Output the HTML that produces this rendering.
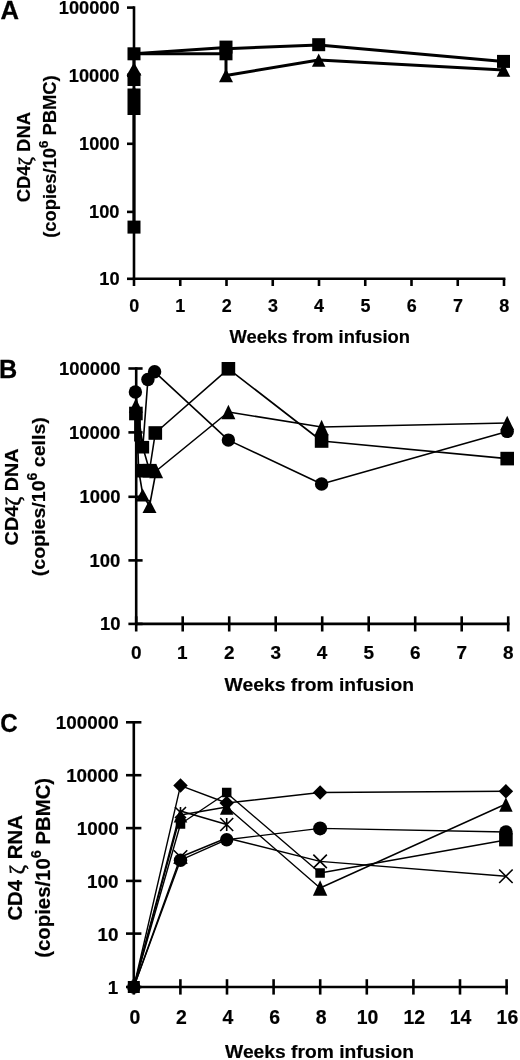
<!DOCTYPE html>
<html><head><meta charset="utf-8"><style>
html,body{margin:0;padding:0;background:#fff;}
svg{display:block;filter:grayscale(100%);}
text{font-family:"Liberation Sans", sans-serif;font-weight:bold;fill:#000;stroke:#000;stroke-width:1px;}
</style></head><body>
<svg width="520" height="1060" viewBox="0 0 520 1060">
<rect width="520" height="1060" fill="#fff"/>
<g stroke="#000" fill="#000" stroke-linecap="butt">
<line x1="134.00" y1="6.30" x2="134.00" y2="280.10" stroke-width="2.6"/>
<line x1="132.70" y1="278.80" x2="505.40" y2="278.80" stroke-width="2.6"/>
<line x1="127.00" y1="7.60" x2="134.00" y2="7.60" stroke-width="2.6"/>
<line x1="127.00" y1="75.80" x2="134.00" y2="75.80" stroke-width="2.6"/>
<line x1="127.00" y1="143.80" x2="134.00" y2="143.80" stroke-width="2.6"/>
<line x1="127.00" y1="211.90" x2="134.00" y2="211.90" stroke-width="2.6"/>
<line x1="127.00" y1="278.80" x2="134.00" y2="278.80" stroke-width="2.6"/>
<line x1="134.00" y1="278.80" x2="134.00" y2="286.00" stroke-width="2.6"/>
<line x1="180.25" y1="278.80" x2="180.25" y2="286.00" stroke-width="2.6"/>
<line x1="226.50" y1="278.80" x2="226.50" y2="286.00" stroke-width="2.6"/>
<line x1="272.75" y1="278.80" x2="272.75" y2="286.00" stroke-width="2.6"/>
<line x1="319.00" y1="278.80" x2="319.00" y2="286.00" stroke-width="2.6"/>
<line x1="365.25" y1="278.80" x2="365.25" y2="286.00" stroke-width="2.6"/>
<line x1="411.50" y1="278.80" x2="411.50" y2="286.00" stroke-width="2.6"/>
<line x1="457.75" y1="278.80" x2="457.75" y2="286.00" stroke-width="2.6"/>
<line x1="504.00" y1="278.80" x2="504.00" y2="286.00" stroke-width="2.6"/>
<polyline points="134.00,53.80 226.00,47.60 226.00,48.80 318.70,44.90 503.50,61.40" fill="none" stroke-width="3.0" stroke-linejoin="round"/>
<polyline points="134.00,53.80 226.00,53.80 226.00,75.50 318.70,60.10 503.50,70.00" fill="none" stroke-width="3.0" stroke-linejoin="round"/>
<line x1="134.00" y1="53.80" x2="134.00" y2="227.10" stroke-width="3.0"/>
<rect x="127.50" y="47.30" width="13" height="13" stroke="none"/>
<rect x="219.50" y="40.60" width="13" height="13" stroke="none"/>
<rect x="219.50" y="47.30" width="13" height="13" stroke="none"/>
<rect x="312.20" y="38.20" width="13" height="13" stroke="none"/>
<rect x="497.00" y="54.90" width="13" height="13" stroke="none"/>
<rect x="127.50" y="73.10" width="13" height="13" stroke="none"/>
<rect x="127.50" y="88.50" width="13" height="26.5" stroke="none"/>
<rect x="127.50" y="220.60" width="13" height="13" stroke="none"/>
<polygon points="134.00,62.50 141.50,75.50 126.50,75.50" stroke="none"/>
<polygon points="226.00,68.75 233.00,82.25 219.00,82.25" stroke="none"/>
<polygon points="318.70,53.40 325.45,66.80 311.95,66.80" stroke="none"/>
<polygon points="503.50,63.30 510.25,76.70 496.75,76.70" stroke="none"/>
<rect x="127.00" y="86.2" width="5.3" height="1.6" fill="#fff" stroke="none"/>
<rect x="135.50" y="86.2" width="5.3" height="1.6" fill="#fff" stroke="none"/>
<line x1="136.20" y1="367.20" x2="136.20" y2="625.20" stroke-width="2.6"/>
<line x1="134.90" y1="623.90" x2="509.50" y2="623.90" stroke-width="2.6"/>
<line x1="128.40" y1="368.50" x2="142.60" y2="368.50" stroke-width="2.6"/>
<line x1="128.40" y1="432.40" x2="142.60" y2="432.40" stroke-width="2.6"/>
<line x1="128.40" y1="496.80" x2="142.60" y2="496.80" stroke-width="2.6"/>
<line x1="128.40" y1="560.40" x2="142.60" y2="560.40" stroke-width="2.6"/>
<line x1="128.40" y1="623.90" x2="142.60" y2="623.90" stroke-width="2.6"/>
<line x1="136.20" y1="616.30" x2="136.20" y2="631.50" stroke-width="2.6"/>
<line x1="182.70" y1="616.30" x2="182.70" y2="631.50" stroke-width="2.6"/>
<line x1="229.20" y1="616.30" x2="229.20" y2="631.50" stroke-width="2.6"/>
<line x1="275.70" y1="616.30" x2="275.70" y2="631.50" stroke-width="2.6"/>
<line x1="322.20" y1="616.30" x2="322.20" y2="631.50" stroke-width="2.6"/>
<line x1="368.70" y1="616.30" x2="368.70" y2="631.50" stroke-width="2.6"/>
<line x1="415.20" y1="616.30" x2="415.20" y2="631.50" stroke-width="2.6"/>
<line x1="461.70" y1="616.30" x2="461.70" y2="631.50" stroke-width="2.6"/>
<line x1="508.20" y1="616.30" x2="508.20" y2="631.50" stroke-width="2.6"/>
<polyline points="135.40,392.00 142.84,447.00 147.90,379.50 154.60,371.80 228.40,440.10 321.60,484.00 507.20,431.40" fill="none" stroke-width="1.6" stroke-linejoin="round"/>
<polyline points="136.20,413.50 142.84,447.20 149.50,470.50 155.30,433.00 228.40,368.80 321.60,441.00 507.20,458.60" fill="none" stroke-width="1.6" stroke-linejoin="round"/>
<polyline points="136.20,405.50 138.70,470.50 142.84,495.00 149.50,506.00 156.10,471.00 228.40,412.00 321.60,427.00 507.20,423.00" fill="none" stroke-width="1.6" stroke-linejoin="round"/>
<circle cx="135.40" cy="392.00" r="6.7" stroke="none"/>
<circle cx="147.90" cy="379.50" r="6.7" stroke="none"/>
<circle cx="154.60" cy="371.80" r="6.7" stroke="none"/>
<circle cx="228.40" cy="440.10" r="6.7" stroke="none"/>
<circle cx="321.60" cy="484.00" r="6.7" stroke="none"/>
<circle cx="507.20" cy="431.40" r="6.7" stroke="none"/>
<rect x="129.10" y="406.70" width="13.6" height="13.6" stroke="none"/>
<rect x="136.54" y="440.90" width="12.6" height="12.6" stroke="none"/>
<rect x="148.50" y="426.20" width="13.6" height="13.6" stroke="none"/>
<rect x="136.04" y="463.90" width="13.6" height="13.6" stroke="none"/>
<rect x="142.70" y="463.90" width="13.6" height="13.6" stroke="none"/>
<rect x="221.60" y="362.00" width="13.6" height="13.6" stroke="none"/>
<rect x="134.1" y="419.5" width="6.8" height="22" stroke="none"/>
<rect x="314.80" y="434.20" width="13.6" height="13.6" stroke="none"/>
<rect x="500.40" y="451.80" width="13.6" height="13.6" stroke="none"/>
<polygon points="135.90,398.25 142.90,412.75 128.90,412.75" stroke="none"/>
<polygon points="156.10,463.75 163.10,478.25 149.10,478.25" stroke="none"/>
<polygon points="142.64,488.50 149.64,501.50 135.64,501.50" stroke="none"/>
<polygon points="149.50,499.55 156.50,513.05 142.50,513.05" stroke="none"/>
<polygon points="228.40,404.75 235.40,419.25 221.40,419.25" stroke="none"/>
<polygon points="321.60,419.75 328.60,435.25 314.60,435.25" stroke="none"/>
<polygon points="507.20,415.75 514.20,430.25 500.20,430.25" stroke="none"/>
<line x1="133.80" y1="721.00" x2="133.80" y2="988.30" stroke-width="2.6"/>
<line x1="132.50" y1="987.00" x2="507.90" y2="987.00" stroke-width="2.6"/>
<line x1="126.00" y1="722.30" x2="141.40" y2="722.30" stroke-width="2.6"/>
<line x1="126.00" y1="775.20" x2="141.40" y2="775.20" stroke-width="2.6"/>
<line x1="126.00" y1="828.10" x2="141.40" y2="828.10" stroke-width="2.6"/>
<line x1="126.00" y1="880.90" x2="141.40" y2="880.90" stroke-width="2.6"/>
<line x1="126.00" y1="933.60" x2="141.40" y2="933.60" stroke-width="2.6"/>
<line x1="126.00" y1="987.00" x2="141.40" y2="987.00" stroke-width="2.6"/>
<line x1="133.80" y1="979.20" x2="133.80" y2="994.60" stroke-width="2.6"/>
<line x1="180.40" y1="979.20" x2="180.40" y2="994.60" stroke-width="2.6"/>
<line x1="227.00" y1="979.20" x2="227.00" y2="994.60" stroke-width="2.6"/>
<line x1="273.60" y1="979.20" x2="273.60" y2="994.60" stroke-width="2.6"/>
<line x1="320.20" y1="979.20" x2="320.20" y2="994.60" stroke-width="2.6"/>
<line x1="366.80" y1="979.20" x2="366.80" y2="994.60" stroke-width="2.6"/>
<line x1="413.40" y1="979.20" x2="413.40" y2="994.60" stroke-width="2.6"/>
<line x1="460.00" y1="979.20" x2="460.00" y2="994.60" stroke-width="2.6"/>
<line x1="506.60" y1="979.20" x2="506.60" y2="994.60" stroke-width="2.6"/>
<polyline points="133.80,987.00 180.50,785.60 226.70,803.00 320.10,792.50 505.90,791.30" fill="none" stroke-width="1.4" stroke-linejoin="round"/>
<polyline points="133.80,987.00 180.50,824.00 226.70,793.00 320.10,873.00 505.90,840.00" fill="none" stroke-width="1.4" stroke-linejoin="round"/>
<polyline points="133.80,987.00 180.50,815.00 226.70,807.00 320.10,888.00 505.90,804.00" fill="none" stroke-width="1.4" stroke-linejoin="round"/>
<polyline points="133.80,987.00 180.50,860.20 226.70,839.70 320.10,828.40 505.90,832.00" fill="none" stroke-width="1.4" stroke-linejoin="round"/>
<polyline points="133.80,987.00 180.50,857.00 226.70,838.00 320.10,861.40 505.90,876.20" fill="none" stroke-width="1.4" stroke-linejoin="round"/>
<polyline points="133.80,987.00 180.50,811.00 226.70,824.50" fill="none" stroke-width="1.4" stroke-linejoin="round"/>
<circle cx="133.80" cy="987.00" r="6.7" stroke="none"/>
<rect x="127.80" y="981.00" width="12" height="12" stroke="none"/>
<polygon points="133.80,980.00 140.80,987.00 133.80,994.00 126.80,987.00" stroke="none"/>
<polygon points="180.50,778.35 187.75,785.60 180.50,792.85 173.25,785.60" stroke="none"/>
<polygon points="226.70,795.75 233.95,803.00 226.70,810.25 219.45,803.00" stroke="none"/>
<polygon points="320.10,785.25 327.35,792.50 320.10,799.75 312.85,792.50" stroke="none"/>
<polygon points="505.90,784.05 513.15,791.30 505.90,798.55 498.65,791.30" stroke="none"/>
<rect x="175.75" y="819.25" width="9.5" height="9.5" stroke="none"/>
<rect x="221.95" y="787.75" width="9.5" height="9.5" stroke="none"/>
<rect x="315.35" y="868.25" width="9.5" height="9.5" stroke="none"/>
<rect x="499.10" y="833" width="13.6" height="13.4" stroke="none"/>
<polygon points="180.50,808.50 187.25,822.50 173.75,822.50" stroke="none"/>
<polygon points="226.70,800.25 233.45,814.75 219.95,814.75" stroke="none"/>
<polygon points="320.10,880.35 327.30,895.65 312.90,895.65" stroke="none"/>
<polygon points="505.90,797.25 512.65,811.75 499.15,811.75" stroke="none"/>
<circle cx="180.50" cy="860.20" r="6.7" stroke="none"/>
<circle cx="226.70" cy="839.70" r="6.7" stroke="none"/>
<circle cx="320.10" cy="828.40" r="7" stroke="none"/>
<circle cx="505.90" cy="832.00" r="6.8" stroke="none"/>
<path d="M173.75,850.25L187.25,863.75M187.25,850.25L173.75,863.75" fill="none" stroke-width="1.6" stroke-linecap="butt"/>
<path d="M313.35,854.65L326.85,868.15M326.85,854.65L313.35,868.15" fill="none" stroke-width="1.6" stroke-linecap="butt"/>
<path d="M499.15,869.45L512.65,882.95M512.65,869.45L499.15,882.95" fill="none" stroke-width="1.6" stroke-linecap="butt"/>
<path d="M175.00,807.00L186.00,818.00M186.00,807.00L175.00,818.00M180.50,807.00L180.50,818.00" fill="none" stroke-width="1.6" stroke-linecap="butt"/>
<path d="M220.20,818.00L233.20,831.00M233.20,818.00L220.20,831.00M226.70,818.00L226.70,831.00" fill="none" stroke-width="1.6" stroke-linecap="butt"/>
<text transform="matrix(0.25606 0.00000 0.00000 0.26471 0.43 19.46)" font-size="100">A</text>
<text transform="matrix(0.18246 0.00000 0.00000 0.17714 58.77 13.90)" font-size="100">100000</text>
<text transform="matrix(0.18246 0.00000 0.00000 0.17714 68.81 82.10)" font-size="100">10000</text>
<text transform="matrix(0.18246 0.00000 0.00000 0.17714 79.02 150.10)" font-size="100">1000</text>
<text transform="matrix(0.18246 0.00000 0.00000 0.17714 89.06 218.20)" font-size="100">100</text>
<text transform="matrix(0.18246 0.00000 0.00000 0.17714 99.28 285.10)" font-size="100">10</text>
<text transform="matrix(0.17951 0.00000 0.00000 0.17429 129.26 311.60)" font-size="100">0</text>
<text transform="matrix(0.17951 0.00000 0.00000 0.17429 175.15 311.60)" font-size="100">1</text>
<text transform="matrix(0.17951 0.00000 0.00000 0.17429 221.76 311.60)" font-size="100">2</text>
<text transform="matrix(0.17951 0.00000 0.00000 0.17429 268.10 311.60)" font-size="100">3</text>
<text transform="matrix(0.17951 0.00000 0.00000 0.17429 314.08 311.60)" font-size="100">4</text>
<text transform="matrix(0.17951 0.00000 0.00000 0.17429 360.42 311.60)" font-size="100">5</text>
<text transform="matrix(0.17951 0.00000 0.00000 0.17429 406.67 311.60)" font-size="100">6</text>
<text transform="matrix(0.17951 0.00000 0.00000 0.17429 453.01 311.60)" font-size="100">7</text>
<text transform="matrix(0.17951 0.00000 0.00000 0.17429 499.17 311.60)" font-size="100">8</text>
<text transform="matrix(0.18390 0.00000 0.00000 0.17714 229.60 343.20)" font-size="100">Weeks from infusion</text>
<text transform="matrix(0.00000 -0.18447 0.18000 0.00000 30.40 202.34)" font-size="100">CD4<tspan style="font-family:'Liberation Serif',serif;font-weight:normal;stroke:#000;stroke-width:3px" font-size="110" dy="9">&#950;</tspan><tspan dy="-9"> DNA</tspan></text>
<text transform="matrix(0.00000 -0.18377 0.17429 0.00000 56.00 237.82)" font-size="100">(copies/10<tspan font-size="72" dy="-44">6</tspan><tspan dy="44"> PBMC)</tspan></text>
<text transform="matrix(0.25246 0.00000 0.00000 0.26232 -0.97 378.10)" font-size="100">B</text>
<text transform="matrix(0.18423 0.00000 0.00000 0.17714 58.99 375.00)" font-size="100">100000</text>
<text transform="matrix(0.18423 0.00000 0.00000 0.17714 69.12 438.90)" font-size="100">10000</text>
<text transform="matrix(0.18423 0.00000 0.00000 0.17714 79.44 503.30)" font-size="100">1000</text>
<text transform="matrix(0.18423 0.00000 0.00000 0.17714 89.57 566.90)" font-size="100">100</text>
<text transform="matrix(0.18423 0.00000 0.00000 0.17714 99.89 630.40)" font-size="100">10</text>
<text transform="matrix(0.18981 0.00000 0.00000 0.18429 130.98 659.00)" font-size="100">0</text>
<text transform="matrix(0.18981 0.00000 0.00000 0.18429 177.10 659.00)" font-size="100">1</text>
<text transform="matrix(0.18981 0.00000 0.00000 0.18429 223.98 659.00)" font-size="100">2</text>
<text transform="matrix(0.18981 0.00000 0.00000 0.18429 270.58 659.00)" font-size="100">3</text>
<text transform="matrix(0.18981 0.00000 0.00000 0.18429 316.79 659.00)" font-size="100">4</text>
<text transform="matrix(0.18981 0.00000 0.00000 0.18429 363.39 659.00)" font-size="100">5</text>
<text transform="matrix(0.18981 0.00000 0.00000 0.18429 409.89 659.00)" font-size="100">6</text>
<text transform="matrix(0.18981 0.00000 0.00000 0.18429 456.48 659.00)" font-size="100">7</text>
<text transform="matrix(0.18981 0.00000 0.00000 0.18429 502.89 659.00)" font-size="100">8</text>
<text transform="matrix(0.19303 0.00000 0.00000 0.19143 224.60 691.00)" font-size="100">Weeks from infusion</text>
<text transform="matrix(0.00000 -0.19793 0.18857 0.00000 18.20 545.39)" font-size="100">CD4<tspan style="font-family:'Liberation Serif',serif;font-weight:normal;stroke:#000;stroke-width:3px" font-size="110" dy="9">&#950;</tspan><tspan dy="-9"> DNA</tspan></text>
<text transform="matrix(0.00000 -0.19589 0.19286 0.00000 45.40 576.18)" font-size="100">(copies/10<tspan font-size="72" dy="-44">6</tspan><tspan dy="44"> cells)</tspan></text>
<text transform="matrix(0.24154 0.00000 0.00000 0.25493 0.23 732.05)" font-size="100">C</text>
<text transform="matrix(0.18857 0.00000 0.00000 0.18857 55.76 729.40)" font-size="100">100000</text>
<text transform="matrix(0.18857 0.00000 0.00000 0.18857 66.13 782.30)" font-size="100">10000</text>
<text transform="matrix(0.18857 0.00000 0.00000 0.18857 76.69 835.20)" font-size="100">1000</text>
<text transform="matrix(0.18857 0.00000 0.00000 0.18857 87.06 888.00)" font-size="100">100</text>
<text transform="matrix(0.18857 0.00000 0.00000 0.18857 97.62 940.70)" font-size="100">10</text>
<text transform="matrix(0.18857 0.00000 0.00000 0.18857 107.81 994.10)" font-size="100">1</text>
<text transform="matrix(0.19429 0.00000 0.00000 0.19429 129.46 1023.80)" font-size="100">0</text>
<text transform="matrix(0.19429 0.00000 0.00000 0.19429 176.06 1023.80)" font-size="100">2</text>
<text transform="matrix(0.19429 0.00000 0.00000 0.19429 222.46 1023.80)" font-size="100">4</text>
<text transform="matrix(0.19429 0.00000 0.00000 0.19429 269.16 1023.80)" font-size="100">6</text>
<text transform="matrix(0.19429 0.00000 0.00000 0.19429 315.76 1023.80)" font-size="100">8</text>
<text transform="matrix(0.19429 0.00000 0.00000 0.19429 356.82 1023.80)" font-size="100">10</text>
<text transform="matrix(0.19429 0.00000 0.00000 0.19429 403.42 1023.80)" font-size="100">12</text>
<text transform="matrix(0.19429 0.00000 0.00000 0.19429 449.63 1023.80)" font-size="100">14</text>
<text transform="matrix(0.19429 0.00000 0.00000 0.19429 496.62 1023.80)" font-size="100">16</text>
<text transform="matrix(0.19251 0.00000 0.00000 0.18714 225.10 1057.60)" font-size="100">Weeks from infusion</text>
<text transform="matrix(0.00000 -0.20391 0.19429 0.00000 22.10 920.62)" font-size="100">CD4 <tspan style="font-family:'Liberation Serif',serif;font-weight:normal;stroke:#000;stroke-width:3px" font-size="110" dy="9">&#950;</tspan><tspan dy="-9"> RNA</tspan></text>
<text transform="matrix(0.00000 -0.20343 0.19714 0.00000 49.80 957.72)" font-size="100">(copies/10<tspan font-size="72" dy="-44">6</tspan><tspan dy="44"> PBMC)</tspan></text>
</g>
</svg>
</body></html>
